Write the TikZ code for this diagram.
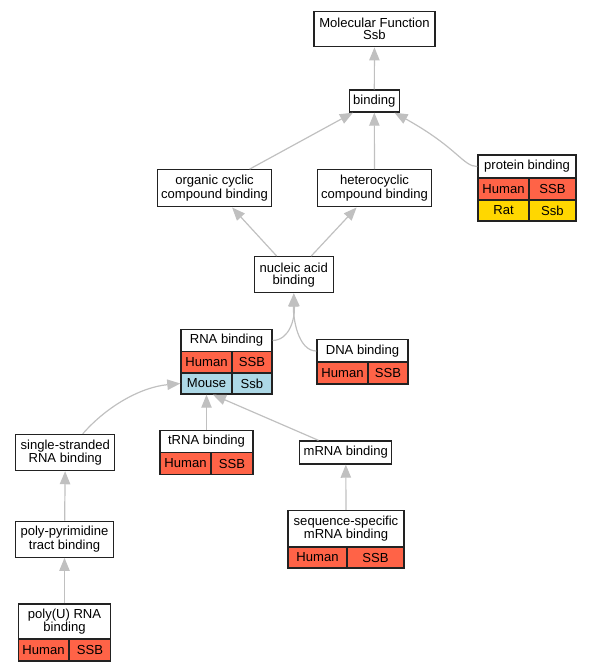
\documentclass[tikz,border=0pt]{standalone}
\usepackage{fontspec}
\setmainfont{Liberation Sans}
\usetikzlibrary{arrows.meta}

\definecolor{humanred}{HTML}{FF6347}
\definecolor{mouseblue}{HTML}{ADD8E6}
\definecolor{ratgold}{HTML}{FFD700}
\definecolor{edgegray}{HTML}{C0C0C0}
\definecolor{boxline}{HTML}{222222}

\tikzset{
  box/.style={draw=boxline, line width=1pt, fill=white, inner sep=0pt, align=center,
              font=\fontsize{9.8}{9}\selectfont},
  boxsize/.style 2 args={minimum width=#1*0.75pt, minimum height=#2*0.75pt},
  human/.style={box, fill=humanred},
  mouse/.style={box, fill=mouseblue},
  rat/.style={box, fill=ratgold},
  edge/.style={draw=edgegray, line width=0.9pt, -{Triangle[length=9.8pt,width=7.8pt]}}
}

\begin{document}
\begin{tikzpicture}[x=0.75pt,y=-0.75pt]
  \useasboundingbox (0,0) rectangle (591,672);

  % Ebene oben
  \node[box, boxsize={121}{35}] (mf)   at (374.5, 29.2) {Molecular Function\\Ssb};
  \node[box, boxsize={50}{22}]  (bind) at (374.3,101.0) {binding};
  \node[box, boxsize={114}{37}] (occb) at (214.5,188.3) {organic cyclic\\compound binding};
  \node[box, boxsize={114}{37}] (hccb) at (374.5,188.3) {heterocyclic\\compound binding};

  % protein binding (Tabelle)
  \node[box,   boxsize={98}{23}] (prot)   at (527.0,166.5) {protein binding};
  \node[human, boxsize={51}{22}] (protH)  at (503.5,189.0) {Human};
  \node[human, boxsize={47}{22}] (protHs) at (552.5,189.0) {SSB};
  \node[rat,   boxsize={51}{21}] (protR)  at (503.5,210.5) {Rat};
  \node[rat,   boxsize={47}{21}] (protRs) at (552.5,210.5) {Ssb};

  \node[box, boxsize={79}{36}] (nuc) at (293.8,274.7) {nucleic acid\\binding};

  % RNA binding (Tabelle)
  \node[box,   boxsize={91}{22}] (rna)   at (226.5,340.5) {RNA binding};
  \node[human, boxsize={51}{21}] (rnaH)  at (206.5,362.0) {Human};
  \node[human, boxsize={40}{21}] (rnaHs) at (252.0,362.0) {SSB};
  \node[mouse, boxsize={51}{21}] (rnaM)  at (206.5,383.5) {Mouse};
  \node[mouse, boxsize={40}{21}] (rnaMs) at (252.0,383.5) {Ssb};

  % DNA binding (Tabelle)
  \node[box,   boxsize={91}{23}] (dna)   at (362.5,351.0) {DNA binding};
  \node[human, boxsize={51}{22}] (dnaH)  at (342.5,373.0) {Human};
  \node[human, boxsize={40}{22}] (dnaHs) at (388.0,373.0) {SSB};

  \node[box, boxsize={99}{36}] (ssrna) at (65.3,452.5) {single-stranded\\RNA binding};

  % tRNA binding (Tabelle)
  \node[box,   boxsize={93}{22}] (trna)   at (206.5,441.5) {tRNA binding};
  \node[human, boxsize={51}{22}] (trnaH)  at (185.5,463.5) {Human};
  \node[human, boxsize={42}{22}] (trnaHs) at (232.0,463.5) {SSB};

  \node[box, boxsize={92}{23}] (mrna)   at (345.8,452.5) {mRNA binding};
  \node[box, boxsize={98}{36}] (polypy) at (64.5,539.2)  {poly-pyrimidine\\tract binding};

  % sequence-specific mRNA binding (Tabelle)
  \node[box,   boxsize={116}{36}] (seq)   at (346.0,528.5) {sequence-specific\\mRNA binding};
  \node[human, boxsize={59}{21}]  (seqH)  at (317.5,557.5) {Human};
  \node[human, boxsize={57}{21}]  (seqHs) at (375.5,557.5) {SSB};

  % poly(U) RNA binding (Tabelle)
  \node[box,   boxsize={92}{35}] (polyu)   at (64.5,621.5) {poly(U) RNA\\binding};
  \node[human, boxsize={50}{22}] (polyuH)  at (43.5,650.0) {Human};
  \node[human, boxsize={41}{22}] (polyuHs) at (90.0,650.0) {SSB};

  % Kanten
  \draw[edge] (bind) -- (mf);
  \draw[edge] (occb) -- (bind);
  \draw[edge] (hccb) -- (bind);
  \draw[edge] (prot.west) .. controls (463,166.5) and (458,148) .. (bind.-30);
  \draw[edge] (nuc) -- (occb);
  \draw[edge] (nuc) -- (hccb);
  \draw[edge] (rna.east) .. controls (290,340) and (295,318) .. (nuc.south);
  \draw[edge] (dna.west) .. controls (298,351) and (293,318) .. (nuc.south);
  \draw[edge] (ssrna.47) .. controls (108,405) and (142,387) .. (rnaM.west);
  \draw[edge] (trna) -- (rnaM);
  \draw[edge] (mrna.156) -- (rnaM.-60);
  \draw[edge] (polypy) -- (ssrna);
  \draw[edge] (polyu) -- (polypy);
  \draw[edge] (seq) -- (mrna);
\end{tikzpicture}
\end{document}
